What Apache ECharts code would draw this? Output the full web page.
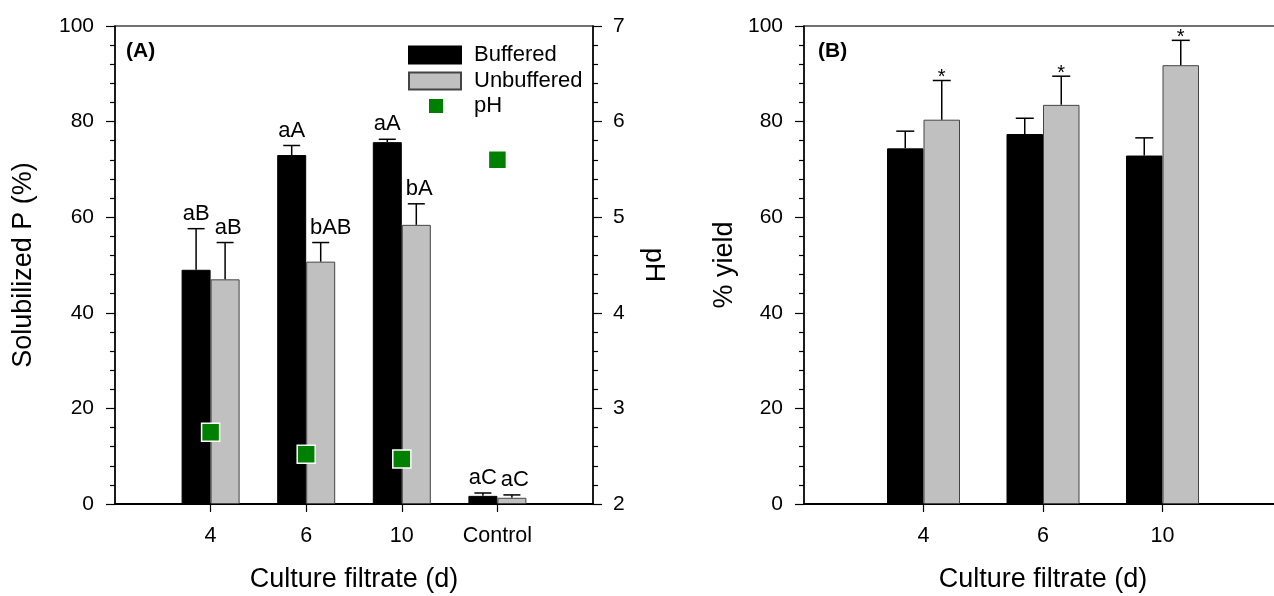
<!DOCTYPE html>
<html>
<head>
<meta charset="utf-8">
<script src="https://cdn.jsdelivr.net/npm/echarts@6/dist/echarts.min.js"></script>
<style>
  html, body { margin: 0; padding: 0; background: #fff; }
  #chart { width: 1274px; height: 596px; }
</style>
</head>
<body>
<div id="chart"></div>
<script>
// Panel A : phosphore solubilisé + pH
const catsA = ['', '4', '6', '10', 'Control', ''];
const bufP = [49.0, 73.0, 75.7, 1.7];
const bufPErr = [8.6, 2.0, 0.6, 0.6];
const unbufP = [47.0, 50.7, 58.4, 1.3];
const unbufPErr = [7.7, 4.0, 4.4, 0.6];
const phVals = [2.75, 2.52, 2.47, 5.60];
const lettersBuf = ['aB', 'aA', 'aA', 'aC'];
const lettersUnbuf = ['aB', 'bAB', 'bA', 'aC'];

// Panel B : rendement
const catsB = ['', '4', '6', '10', ''];
const bufYield = [74.4, 77.4, 72.9];
const bufYieldErr = [3.6, 3.3, 3.7];
const unbufYield = [80.4, 83.5, 91.8];
const unbufYieldErr = [8.2, 6.0, 5.2];
const sigB = ['', '', ''];
const sigBUnbuf = ['*', '*', '*'];

const FONT = 'Liberation Sans, Arial, sans-serif';
const chart = echarts.init(document.getElementById('chart'));

// valeurs placées sur les index 1..n de l'axe catégorie
const toPts = (arr) => arr.map((v, i) => [i + 1, v]);
const toErr = (arr, err) => arr.map((v, i) => [i + 1, v, err[i]]);

function errSeries(xi, yi, vals, errs, labels, offset, cap, labelFont, labelGap, labelDx) {
    return {
        type: 'custom',
        xAxisIndex: xi,
        yAxisIndex: yi,
        z: 5,
        silent: true,
        data: toErr(vals, errs),
        renderItem: function (params, api) {
            const idx = api.value(0);
            const v = api.value(1);
            const e = api.value(2);
            const base = api.coord([idx, v]);
            const top = api.coord([idx, v + e]);
            const x = base[0] + offset;
            const dx = labelDx ? labelDx(labels[params.dataIndex]) : 0;
            const st = { stroke: '#000', lineWidth: 1.5 };
            return {
                type: 'group',
                children: [
                    { type: 'line', shape: { x1: x, y1: base[1], x2: x, y2: top[1] }, style: st },
                    { type: 'line', shape: { x1: x - cap / 2, y1: top[1], x2: x + cap / 2, y2: top[1] }, style: st },
                    {
                        type: 'text',
                        style: {
                            x: x + dx, y: top[1] - labelGap,
                            text: labels[params.dataIndex],
                            fill: '#000', font: labelFont,
                            textAlign: 'center', textVerticalAlign: 'bottom'
                        }
                    }
                ]
            };
        }
    };
}

const axisLineStyle = { color: '#000', width: 1.5 };

function yAxisBase(gridIndex, name, gap) {
    return {
        type: 'value', gridIndex: gridIndex, min: 0, max: 100, interval: 20,
        axisLine: { show: true, lineStyle: axisLineStyle },
        axisTick: { show: true, length: 9, lineStyle: { color: '#000', width: 1.2 } },
        minorTick: { show: true, splitNumber: 5, length: 5, lineStyle: { color: '#000', width: 1.2 } },
        splitLine: { show: false },
        axisLabel: { fontSize: 21, color: '#000', fontFamily: FONT, margin: 21 },
        name: name, nameLocation: 'middle', nameGap: gap,
        nameTextStyle: { fontSize: 27, color: '#000', fontFamily: FONT }
    };
}

function xAxisBase(gridIndex, data) {
    const last = data.length - 1;
    return {
        type: 'category', gridIndex: gridIndex, data: data, boundaryGap: false,
        axisLine: { show: true, lineStyle: { color: '#000', width: 2 } },
        axisTick: { show: true, length: 8, interval: (i) => i > 0 && i < last, lineStyle: { color: '#000', width: 1.2 } },
        axisLabel: { interval: 0, fontSize: 21.5, color: '#000', fontFamily: FONT, margin: 21 },
        name: 'Culture filtrate (d)', nameLocation: 'middle', nameGap: 62,
        nameTextStyle: { fontSize: 27, color: '#000', fontFamily: FONT }
    };
}

const gridBox = {
    show: true, borderColor: '#444', borderWidth: 1.5, backgroundColor: 'transparent',
    containLabel: false, outerBoundsMode: 'none'
};

const options = {
    animation: false,
    textStyle: { fontFamily: FONT },
    grid: [
        Object.assign({ left: 115, top: 26, width: 478, height: 478 }, gridBox),
        Object.assign({ left: 804, top: 26, width: 478, height: 478 }, gridBox)
    ],
    legend: [
        {
            data: [{ name: 'Buffered', icon: 'rect' }, { name: 'Unbuffered', icon: 'rect' }],
            orient: 'vertical', left: 408, top: 44, padding: 0,
            itemWidth: 52, itemHeight: 17, itemGap: 4, selectedMode: false,
            textStyle: { fontSize: 22, color: '#000', fontFamily: FONT, padding: [0, 0, 0, 8] }
        },
        {
            data: [{ name: 'pH', icon: 'rect' }],
            orient: 'vertical', left: 427, top: 95, padding: 0,
            itemWidth: 16, itemHeight: 16, selectedMode: false,
            textStyle: { fontSize: 22, color: '#000', fontFamily: FONT, padding: [0, 0, 0, 25] }
        }
    ],
    xAxis: [xAxisBase(0, catsA), xAxisBase(1, catsB)],
    yAxis: [
        yAxisBase(0, 'Solubilized P (%)', 78),
        {
            type: 'value', gridIndex: 0, position: 'right', min: 2, max: 7, interval: 1,
            axisLine: { show: true, lineStyle: axisLineStyle },
            axisTick: { show: true, length: 9, lineStyle: { color: '#000', width: 1.2 } },
            minorTick: { show: true, splitNumber: 5, length: 5, lineStyle: { color: '#000', width: 1.2 } },
            splitLine: { show: false },
            axisLabel: { fontSize: 21, color: '#000', fontFamily: FONT, margin: 20 },
            name: 'pH', nameLocation: 'middle', nameGap: 47, nameRotate: -90,
            nameTextStyle: { fontSize: 27, color: '#000', fontFamily: FONT }
        },
        yAxisBase(1, '% yield', 66)
    ],
    graphic: [
        { type: 'text', left: 126, top: 41, style: { text: '(A)', font: 'bold 21px ' + FONT, fill: '#000' } },
        { type: 'text', left: 818, top: 41, style: { text: '(B)', font: 'bold 21px ' + FONT, fill: '#000' } }
    ],
    series: [
        {
            name: 'Buffered', type: 'bar', xAxisIndex: 0, yAxisIndex: 0,
            barWidth: 29, barGap: '0%', data: toPts(bufP),
            itemStyle: { color: '#000', borderColor: '#000', borderWidth: 1 }
        },
        {
            name: 'Unbuffered', type: 'bar', xAxisIndex: 0, yAxisIndex: 0,
            barWidth: 29, barGap: '0%', data: toPts(unbufP),
            itemStyle: { color: '#c0c0c0', borderColor: '#444', borderWidth: 1 }
        },
        {
            name: 'pH', type: 'scatter', xAxisIndex: 0, yAxisIndex: 1, z: 10,
            symbol: 'rect', symbolSize: 18, data: toPts(phVals),
            itemStyle: { color: '#008000', borderColor: '#fff', borderWidth: 1.5, opacity: 1 }
        },
        errSeries(0, 0, bufP, bufPErr, lettersBuf, -14.5, 17, '22px ' + FONT, 4),
        // les étiquettes longues sont décalées vers la droite pour ne pas chevaucher la barre noire
        errSeries(0, 0, unbufP, unbufPErr, lettersUnbuf, 14.5, 17, '22px ' + FONT, 4,
            (t) => t.length > 2 ? 10 : 3),
        {
            name: 'Buffered', type: 'bar', xAxisIndex: 1, yAxisIndex: 2,
            barWidth: 36.5, barGap: '0%', data: toPts(bufYield),
            itemStyle: { color: '#000', borderColor: '#000', borderWidth: 1 }
        },
        {
            name: 'Unbuffered', type: 'bar', xAxisIndex: 1, yAxisIndex: 2,
            barWidth: 36.5, barGap: '0%', data: toPts(unbufYield),
            itemStyle: { color: '#c0c0c0', borderColor: '#444', borderWidth: 1 }
        },
        errSeries(1, 2, bufYield, bufYieldErr, sigB, -18.25, 18, '20px ' + FONT, 0),
        errSeries(1, 2, unbufYield, unbufYieldErr, sigBUnbuf, 18.25, 18, '20px ' + FONT, -7)
    ]
};

chart.setOption(options);
</script>
</body>
</html>
